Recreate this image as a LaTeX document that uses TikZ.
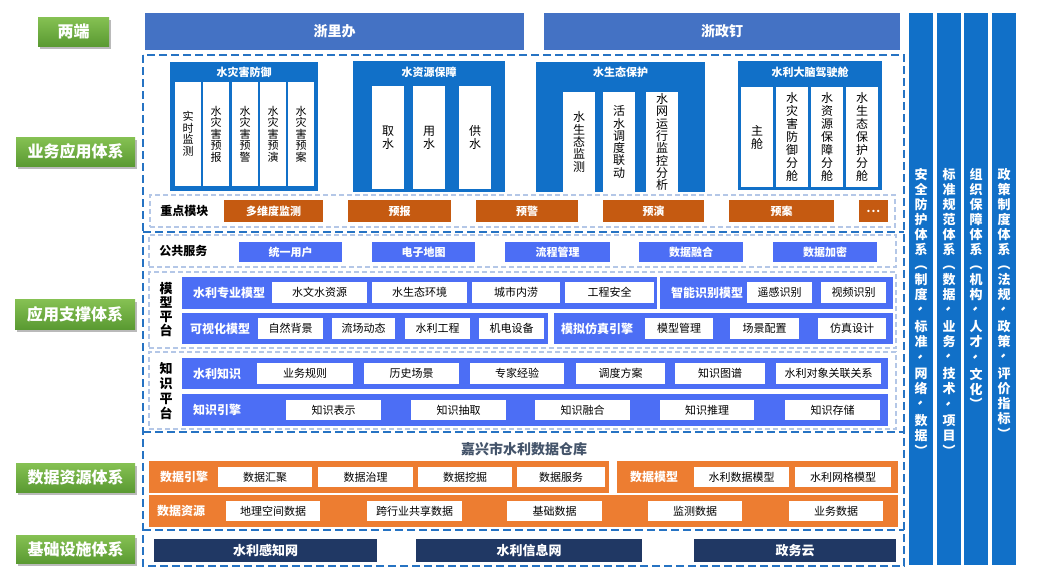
\documentclass[tikz,border=0pt]{standalone}
\usepackage{fontspec}
\setmainfont{Noto Sans CJK SC}
\usetikzlibrary{positioning,shadows}

\definecolor{grnT}{HTML}{86C153}
\definecolor{grnB}{HTML}{5A9A32}
\definecolor{endBlue}{HTML}{4472C4}
\definecolor{grpBlue}{HTML}{1170C8}
\definecolor{modBlue}{HTML}{4C6EF5}
\definecolor{frameBlue}{HTML}{2673C3}
\definecolor{stripGray}{HTML}{B4C7E7}
\definecolor{keyOrange}{HTML}{C55A11}
\definecolor{dataOrange}{HTML}{ED7D31}
\definecolor{netNavy}{HTML}{203864}
\definecolor{whTitle}{HTML}{44546A}

\newcommand{\fs}[2]{\fontsize{#1}{#2}\selectfont}
\newcommand{\vdun}{\rotatebox[origin=c]{-90}{、}}
\newcommand{\vlp}{\rotatebox[origin=c]{-90}{（}}
\newcommand{\vrp}{\rotatebox[origin=c]{-90}{）}}
\newcommand{\moredots}{.\kern1pt.\kern1pt.}

\begin{document}
\begin{tikzpicture}[x=1pt,y=-1pt,
    spanbox/.style n args={4}{minimum width={(#3)-(#1)},minimum height={(#4)-(#2)},
      at={({((#1)+(#3))/2},{((#2)+(#4))/2})}},
    lbl/.style={top color=grnT,bottom color=grnB,text=white,inner sep=0,
      font=\fs{16}{16}\bfseries,
      drop shadow={shadow xshift=2pt,shadow yshift=-3pt,fill=black!60,opacity=.45}},
    endbar/.style={fill=endBlue,text=white,inner sep=0,font=\fs{14}{14}\bfseries},
    sidebar/.style={fill=grpBlue,inner sep=0},
    sidetxt/.style={text=white,inner sep=0,align=center,font=\fs{13}{15}\bfseries},
    frame/.style={draw=frameBlue,line width=2.2pt,dash pattern=on 8pt off 4pt},
    strip/.style={draw=stripGray,fill=white,line width=1.8pt,dash pattern=on 5pt off 3pt,inner sep=0},
    grp/.style={fill=grpBlue,inner sep=0},
    gtitle/.style={text=white,inner sep=0,font=\fs{11}{11}\bfseries},
    col/.style={fill=white,inner sep=0,align=center,text=black},
    keymod/.style={fill=keyOrange,text=white,inner sep=0,font=\fs{11}{11}\bfseries},
    rowlbl/.style={inner sep=0,font=\fs{12}{12}\bfseries},
    vlbl/.style={inner sep=0,align=center,font=\fs{13}{14}\bfseries},
    modbtn/.style={fill=modBlue,text=white,inner sep=0,font=\fs{11}{11}\bfseries},
    modbar/.style={fill=modBlue,inner sep=0},
    databar/.style={fill=dataOrange,inner sep=0},
    bartitle/.style={text=white,inner sep=0,font=\fs{12}{12}\bfseries},
    wbox/.style={fill=white,inner sep=0,font=\fs{11}{11}},
    netbox/.style={fill=netNavy,text=white,inner sep=0,font=\fs{13}{13}\bfseries}
  ]
  \useasboundingbox (0,0) rectangle (1040,579);

  % layer frames
  \draw[frame] (143,55) rectangle (904,566);
  \foreach \yy in {232,432,530}
    \draw[frame] (143,\yy) -- (904,\yy);

  % left labels
  \node[lbl,spanbox={38}{17}{109}{46}] (lblEnd) {两端};
  \node[lbl,spanbox={16}{137}{135}{166}] (lblApp) {业务应用体系};
  \node[lbl,spanbox={15}{299}{135}{329}] (lblSup) {应用支撑体系};
  \node[lbl,spanbox={16}{463}{135}{492}] (lblData) {数据资源体系};
  \node[lbl,spanbox={16}{535}{135}{563}] (lblBase) {基础设施体系};

  % two ends
  \node[endbar,spanbox={145}{13}{524}{50}] (zlb) {浙里办};
  \node[endbar,spanbox={544}{13}{900}{50}] (zzd) {浙政钉};

  % side systems
  \foreach \xa/\txt [count=\i] in {
      909/安\\全\\防\\护\\体\\系\\\vlp\\制\\度\\\vdun\\标\\准\\\vdun\\网\\络\\\vdun\\数\\据\\\vrp,
      937/标\\准\\规\\范\\体\\系\\\vlp\\数\\据\\\vdun\\业\\务\\\vdun\\技\\术\\\vdun\\项\\目\\\vrp,
      964/组\\织\\保\\障\\体\\系\\\vlp\\机\\构\\\vdun\\人\\才\\\vdun\\文\\化\\\vrp,
      992/政\\策\\制\\度\\体\\系\\\vlp\\法\\规\\\vdun\\政\\策\\\vdun\\评\\价\\指\\标\\\vrp}{
    \node[sidebar,spanbox={\xa}{13}{\xa+24}{565}] (side\i) {};
    \node[sidetxt,below=155pt of side\i.north] (sideT\i) {\txt};
  }

  % business groups
  \node[grp,spanbox={170}{62}{318}{191}] (fyu) {};
  \node[gtitle,below=5pt of fyu.north] (fyuT) {水灾害防御};
  \foreach \xa/\txt [count=\i] in {175/实\\时\\监\\测,203/水\\灾\\害\\预\\报,
      232/水\\灾\\害\\预\\警,260/水\\灾\\害\\预\\演,288/水\\灾\\害\\预\\案}
    \node[col,font=\fs{11}{11.5},spanbox={\xa}{82}{\xa+26}{186}] (fyu\i) {\txt};

  \node[grp,spanbox={353}{61}{505}{192}] (zyb) {};
  \node[gtitle,below=6pt of zyb.north] (zybT) {水资源保障};
  \foreach \xa/\txt [count=\i] in {372/取\\水,413/用\\水,459/供\\水}
    \node[col,font=\fs{12}{13},spanbox={\xa}{86}{\xa+32}{189}] (zyb\i) {\txt};

  \node[grp,spanbox={536}{62}{705}{192}] (stb) {};
  \node[gtitle,below=5pt of stb.north] (stbT) {水生态保护};
  \foreach \xa/\txt [count=\i] in {563/水\\生\\态\\监\\测,603/活\\水\\调\\度\\联\\动,
      646/水\\网\\运\\行\\监\\控\\分\\析}
    \node[col,font=\fs{12}{12.3},spanbox={\xa}{92}{\xa+32}{192}] (stb\i) {\txt};

  \node[grp,spanbox={738}{61}{882}{190}] (jsc) {};
  \node[gtitle,below=6pt of jsc.north] (jscT) {水利大脑驾驶舱};
  \foreach \xa/\txt [count=\i] in {741/主\\舱,776/水\\灾\\害\\防\\御\\分\\舱,
      811/水\\资\\源\\保\\障\\分\\舱,846/水\\生\\态\\保\\护\\分\\舱}
    \node[col,font=\fs{12}{13},spanbox={\xa}{87}{\xa+32}{187}] (jsc\i) {\txt};

  % key modules
  \node[strip,spanbox={150}{195}{895}{227}] (zd) {};
  \node[rowlbl,right=11pt of zd.west] (zdT) {重点模块};
  \foreach \xa/\xb/\txt [count=\i] in {224/323/多维度监测,348/451/预报,476/578/预警,
      603/704/预演,729/834/预案,859/888/\moredots}
    \node[keymod,spanbox={\xa}{200}{\xb}{222}] (zd\i) {\txt};

  % public services
  \node[strip,spanbox={149}{235}{896}{267}] (gg) {};
  \node[rowlbl,right=11pt of gg.west] (ggT) {公共服务};
  \foreach \xa/\xb/\txt [count=\i] in {239/342/统一用户,372/475/电子地图,505/610/流程管理,
      639/743/数据融合,773/877/数据加密}
    \node[modbtn,spanbox={\xa}{242}{\xb}{262}] (gg\i) {\txt};

  % model platform
  \node[strip,spanbox={149}{272}{896}{348}] (mx) {};
  \node[vlbl] (mxT) at (166,310) {模\\型\\平\\台};

  \node[modbar,spanbox={182}{277}{657}{309}] (slzy) {};
  \node[bartitle,right=11pt of slzy.west] (slzyT) {水利专业模型};
  \foreach \xa/\xb/\txt [count=\i] in {272/367/水文水资源,372/467/水生态环境,
      472/560/城市内涝,565/654/工程安全}
    \node[wbox,spanbox={\xa}{282}{\xb}{303}] (slzy\i) {\txt};

  \node[modbar,spanbox={660}{277}{893}{309}] (znsb) {};
  \node[bartitle,right=11pt of znsb.west] (znsbT) {智能识别模型};
  \foreach \xa/\xb/\txt [count=\i] in {747/812/遥感识别,821/886/视频识别}
    \node[wbox,spanbox={\xa}{282}{\xb}{303}] (znsb\i) {\txt};

  \node[modbar,spanbox={182}{313}{548}{344}] (ksh) {};
  \node[bartitle,right=8pt of ksh.west] (kshT) {可视化模型};
  \foreach \xa/\xb/\txt [count=\i] in {258/323/自然背景,332/395/流场动态,
      405/470/水利工程,479/544/机电设备}
    \node[wbox,spanbox={\xa}{318}{\xb}{339}] (ksh\i) {\txt};

  \node[modbar,spanbox={554}{313}{893}{344}] (mnfz) {};
  \node[bartitle,right=7pt of mnfz.west] (mnfzT) {模拟仿真引擎};
  \foreach \xa/\xb/\txt [count=\i] in {645/713/模型管理,730/799/场景配置,818/886/仿真设计}
    \node[wbox,spanbox={\xa}{318}{\xb}{339}] (mnfz\i) {\txt};

  % knowledge platform
  \node[strip,spanbox={149}{352}{896}{429}] (zs) {};
  \node[vlbl,font=\fs{13}{15}\bfseries] (zsT) at (166,391) {知\\识\\平\\台};

  \node[modbar,spanbox={182}{358}{888}{389}] (slzs) {};
  \node[bartitle,right=11pt of slzs.west] (slzsT) {水利知识};
  \foreach \xa/\xb/\txt [count=\i] in {257/353/业务规则,364/459/历史场景,470/564/专家经验,
      576/665/调度方案,675/765/知识图谱,776/881/水利对象关联关系}
    \node[wbox,spanbox={\xa}{363}{\xb}{384}] (slzs\i) {\txt};

  \node[modbar,spanbox={182}{394}{888}{426}] (zsyq) {};
  \node[bartitle,right=11pt of zsyq.west] (zsyqT) {知识引擎};
  \foreach \xa/\xb/\txt [count=\i] in {286/381/知识表示,411/506/知识抽取,535/630/知识融合,
      660/754/知识推理,785/880/知识存储}
    \node[wbox,spanbox={\xa}{400}{\xb}{420}] (zsyq\i) {\txt};

  % data warehouse
  \node[inner sep=0,text=whTitle,font=\fs{14}{14}\bfseries] (ck) at (524,449) {嘉兴市水利数据仓库};

  \node[databar,spanbox={149}{461}{609}{493}] (sjyq) {};
  \node[bartitle,right=11pt of sjyq.west] (sjyqT) {数据引擎};
  \foreach \xa/\xb/\txt [count=\i] in {218/312/数据汇聚,318/413/数据治理,
      418/512/数据挖掘,517/605/数据服务}
    \node[wbox,spanbox={\xa}{467}{\xb}{487}] (sjyq\i) {\txt};

  \node[databar,spanbox={617}{461}{898}{493}] (sjmx) {};
  \node[bartitle,right=13pt of sjmx.west] (sjmxT) {数据模型};
  \foreach \xa/\xb/\txt [count=\i] in {694/789/水利数据模型,795/891/水利网格模型}
    \node[wbox,spanbox={\xa}{467}{\xb}{487}] (sjmx\i) {\txt};

  \node[databar,spanbox={149}{495}{898}{527}] (sjzy) {};
  \node[bartitle,right=8pt of sjzy.west] (sjzyT) {数据资源};
  \foreach \xa/\xb/\txt [count=\i] in {226/320/地理空间数据,367/462/跨行业共享数据,
      507/602/基础数据,648/742/监测数据,789/883/业务数据}
    \node[wbox,spanbox={\xa}{501}{\xb}{521}] (sjzy\i) {\txt};

  % infrastructure
  \foreach \xa/\xb/\txt [count=\i] in {154/377/水利感知网,416/642/水利信息网,694/896/政务云}
    \node[netbox,spanbox={\xa}{539}{\xb}{562}] (net\i) {\txt};
\end{tikzpicture}
\end{document}
